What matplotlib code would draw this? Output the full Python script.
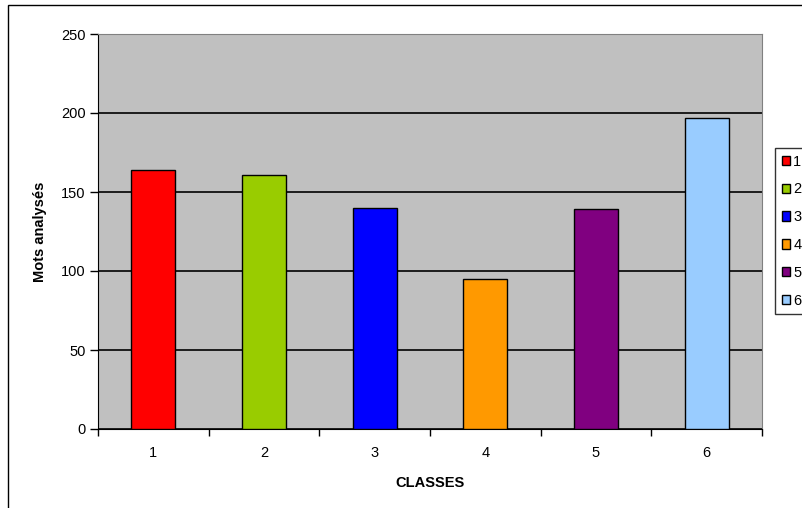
#!/usr/bin/env python3
""" Bar chart: Mots analysés per class. """

import numpy as np
import matplotlib
matplotlib.use('Agg')
import matplotlib.pyplot as plt
from matplotlib.patches import Rectangle

classes = ["1", "2", "3", "4", "5", "6"]
mots = [164, 161, 140, 95, 139, 197]
colors = ["#FF0000", "#99CC00", "#0000FF", "#FF9900", "#800080", "#99CCFF"]

plt.rcParams['font.family'] = ['Liberation Sans', 'DejaVu Sans']

fig = plt.figure(figsize=(8.03, 5.08), dpi=100)
ax = fig.add_axes([98 / 803, 1 - 429 / 508, 664 / 803, 395 / 508])

x = np.arange(1, len(classes) + 1)
bars = ax.bar(x, mots, width=0.4, color=colors, edgecolor="black",
              linewidth=1.0, zorder=3, label=classes)

ax.set_facecolor("#C0C0C0")
ax.set_xlim(0.5, 6.5)
ax.set_ylim(0, 250)
ax.set_yticks(np.arange(0, 251, 50))
ax.yaxis.grid(True, color="black", linewidth=1.2, zorder=1)
ax.set_axisbelow(True)

# ticks on category boundaries, labels in the middle
ax.set_xticks(np.arange(0.5, 6.6, 1.0))
ax.set_xticklabels([])
ax.set_xticks(x, minor=True)
ax.set_xticklabels(classes, minor=True)
ax.tick_params(axis="x", which="major", direction="out", length=5, width=1)
ax.tick_params(axis="x", which="minor", length=0, pad=12, labelsize=10.5)
ax.tick_params(axis="y", direction="out", length=6, width=1, labelsize=10.5, pad=3)

for side in ["top", "right"]:
    ax.spines[side].set_color("#808080")
for side in ["left", "bottom"]:
    ax.spines[side].set_color("black")

ax.set_ylabel("Mots analysés", fontsize=10.5, fontweight="bold", labelpad=10)
ax.set_xlabel("CLASSES", fontsize=10.5, fontweight="bold", labelpad=12)

handles = [Rectangle((0, 0), 1, 1, facecolor=c, edgecolor="black", linewidth=1.0)
           for c in colors]
leg = fig.legend(handles, classes, loc="upper left",
                 bbox_to_anchor=(775 / 803, 1 - 148 / 508),
                 frameon=True, fancybox=False, fontsize=10.5,
                 handlelength=0.6, handleheight=0.6, handletextpad=0.2,
                 labelspacing=0.95, borderpad=0.45, borderaxespad=0)
leg.get_frame().set_edgecolor("black")
leg.get_frame().set_linewidth(1.0)

# outer chart border
fig.patches.append(Rectangle((8 / 803, -0.1), 1.2, 1.1 - 5 / 508,
                             transform=fig.transFigure, fill=False,
                             edgecolor="black", linewidth=1.0, zorder=0))

fig.savefig("out.png", dpi=100)
